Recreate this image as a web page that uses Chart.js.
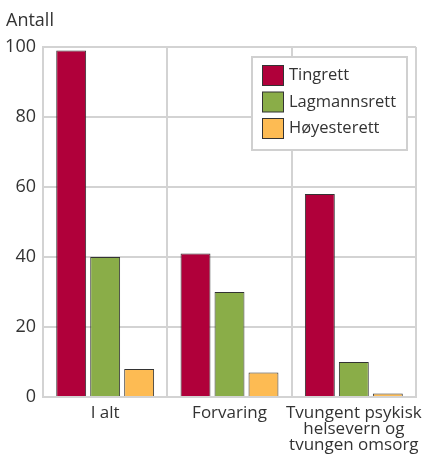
<!DOCTYPE html>
<html><head><meta charset="utf-8">
<script src="https://cdn.jsdelivr.net/npm/chart.js@4/dist/chart.umd.min.js"></script>
<style>html,body{margin:0;padding:0;background:#fff}#w{width:422px;height:457px}</style>
</head><body><div id="w"><canvas id="c"></canvas></div>
<script>
const categories = ["I alt", "Forvaring", ["Tvungent psykisk", "helsevern og", "tvungen omsorg"]];
const seriesNames = ["Tingrett", "Lagmannsrett", "Høyesterett"];
const tingrett = [99, 41, 58];
const lagmannsrett = [40, 30, 10];
const hoyesterett = [8, 7, 1];
const yTicks = [0, 20, 40, 60, 80, 100];
const colors = ["#b0003a", "#8aad48", "#fdbb53"];
const FONT = "'Open Sans', sans-serif";
const TXT = '#333';

const legendPlugin = {
  id: 'boxLegend',
  afterDraw(chart) {
    const ctx = chart.ctx;
    ctx.save();
    const x = 252, y = 57, w = 155, h = 93;
    ctx.fillStyle = '#fff';
    ctx.fillRect(x, y, w, h);
    ctx.strokeStyle = '#d0d0d0';
    ctx.lineWidth = 2;
    ctx.strokeRect(x, y, w, h);
    chart.data.datasets.forEach((ds, i) => {
      const sy = 65 + i * 26.5;
      ctx.fillStyle = ds.backgroundColor;
      ctx.fillRect(262.5, sy + 0.5, 21, 20);
      ctx.strokeStyle = '#333';
      ctx.lineWidth = 1;
      ctx.strokeRect(262.5, sy + 0.5, 21, 20);
      ctx.fillStyle = TXT;
      ctx.font = "16.5px " + FONT;
      ctx.textBaseline = 'middle';
      ctx.textAlign = 'left';
      ctx.fillText(ds.label, 289, sy + 10.5);
    });
    ctx.font = "18px " + FONT;
    ctx.fillStyle = TXT;
    ctx.textBaseline = 'middle';
    ctx.fillText("Antall", 6, 21);
    ctx.restore();
  }
};

new Chart(document.getElementById('c'), {
  type: 'bar',
  data: {
    labels: categories,
    datasets: [
      {label: seriesNames[0], data: tingrett, backgroundColor: colors[0]},
      {label: seriesNames[1], data: lagmannsrett, backgroundColor: colors[1]},
      {label: seriesNames[2], data: hoyesterett, backgroundColor: colors[2]}
    ].map(d => Object.assign(d, {borderColor: '#333', borderWidth: 1, categoryPercentage: 0.82, barPercentage: 0.88}))
  },
  options: {
    responsive: true, maintainAspectRatio: false, animation: false,
    layout: {padding: {top: 47, left: 0, right: 6, bottom: 0}},
    plugins: {legend: {display: false}, tooltip: {enabled: false}},
    scales: {
      x: {
        offset: true,
        grid: {offset: true, color: '#d3d3d3', lineWidth: 2, drawTicks: false},
        border: {color: '#d3d3d3', width: 2},
        ticks: {color: TXT, font: {family: FONT, size: 17, lineHeight: '16px'}, padding: 8, maxRotation: 0, autoSkip: false},
        afterFit(s) { s.height = 60; s.paddingLeft = 0; s.paddingRight = 0; }
      },
      y: {
        min: 0, max: 100,
        afterBuildTicks(s) { s.ticks = yTicks.map(v => ({value: v})); },
        grid: {color: '#d3d3d3', lineWidth: 2, drawTicks: false},
        border: {color: '#d3d3d3', width: 2},
        ticks: {color: TXT, font: {family: FONT, size: 18}, padding: 7},
        afterFit(s) { s.width = 43; }
      }
    }
  },
  plugins: [legendPlugin]
});
</script>
</body></html>
